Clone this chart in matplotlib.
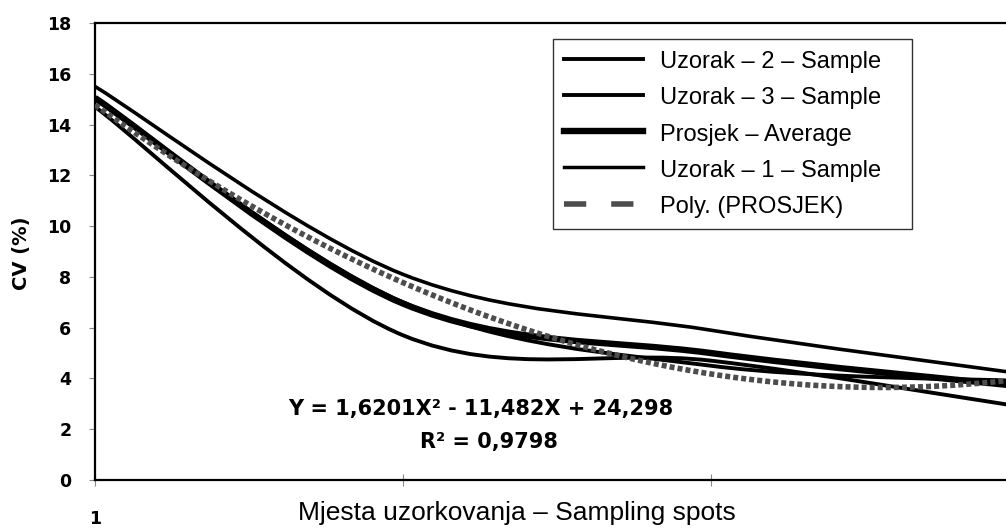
import numpy as np
import matplotlib
matplotlib.use("Agg")
import matplotlib.pyplot as plt
from matplotlib.path import Path
from matplotlib.patches import PathPatch
from matplotlib.lines import Line2D

# ---------------- data ----------------
spots = [1, 2, 3, 4]
uzorak_1 = [15.5, 8.1, 5.9, 4.2]
uzorak_2 = [14.7, 5.7, 4.7, 2.9]
uzorak_3 = [15.0, 7.0, 4.5, 3.9]
prosjek = [15.05, 6.95, 5.0, 3.7]
y_ticks = [0, 2, 4, 6, 8, 10, 12, 14, 16, 18]
x_tick_labels = ["1", "", "", ""]
equation_text = "Y = 1,6201X\u00b2 - 11,482X + 24,298"
r2_text = "R\u00b2 = 0,9798"

W, H = 1006, 529
fig = plt.figure(figsize=(W / 100, H / 100), dpi=100)
fig.patch.set_facecolor("white")

# axes: left spine at px 95, top at 23, bottom at 480, right (x=4) at ~1019 (cropped)
L, T, B, R = 95, 23, 480, 1019
ax = fig.add_axes([L / W, 1 - B / H, (R - L) / W, (B - T) / H])
ax.set_xlim(1, 4)
ax.set_ylim(0, 18)


def smooth_path(xs, ys):
    """Excel-like smoothed line: cubic Bezier through the data points."""
    pts = np.column_stack([xs, ys]).astype(float)
    n = len(pts)
    verts = [pts[0]]
    codes = [Path.MOVETO]
    for i in range(n - 1):
        p0 = pts[i - 1] if i > 0 else pts[i]
        p1 = pts[i]
        p2 = pts[i + 1]
        p3 = pts[i + 2] if i + 2 < n else pts[i + 1]
        c1 = p1 + (p2 - p0) / 6.0
        c2 = p2 - (p3 - p1) / 6.0
        verts += [c1, c2, p2]
        codes += [Path.CURVE4] * 3
    return Path(verts, codes)


series = [
    (uzorak_1, 2.6),
    (uzorak_3, 2.8),
    (uzorak_2, 2.8),
    (prosjek, 4.6),
]
for ys, lw in series:
    ax.add_patch(PathPatch(smooth_path(spots, ys), fill=False, edgecolor="black",
                           lw=lw, capstyle="butt", joinstyle="round"))

# polynomial trendline of the average series
coef = np.polyfit(spots, prosjek, 2)
xt = np.linspace(spots[0], spots[-1], 300)
ax.plot(xt, np.polyval(coef, xt), color="#4d4d4d", lw=4.0,
        linestyle=(0, (0.9, 0.55)), solid_capstyle="butt", dash_capstyle="butt", zorder=5)

# ---------------- axes styling ----------------
for s in ["left", "bottom", "top"]:
    ax.spines[s].set_color("black")
    ax.spines[s].set_linewidth(1.6)
ax.spines["right"].set_visible(False)

ax.set_yticks(y_ticks)
ax.set_yticklabels([str(v) for v in y_ticks], fontsize=12.5, fontweight="bold",
                   family="DejaVu Sans")
ax.tick_params(axis="y", direction="out", length=4, width=0.8, color="#888888", pad=13)

ax.set_xticks(spots)
ax.set_xticklabels(x_tick_labels, fontsize=12.5, fontweight="bold", family="DejaVu Sans")
ax.tick_params(axis="x", direction="inout", length=8, width=0.8, color="#888888", pad=17.5)

# axis titles
fig.text(22 / W, 1 - 253 / H, "CV (%)", rotation=90, ha="center", va="center",
         fontsize=14, fontweight="bold", family="DejaVu Sans")
fig.text(517 / W, 1 - 513 / H, "Mjesta uzorkovanja \u2013 Sampling spots", ha="center",
         va="center", fontsize=19, family="Liberation Sans")

# trendline equation
fig.text(288 / W, 1 - 409 / H, equation_text, ha="left", va="center",
         fontsize=15, fontweight="bold", family="DejaVu Sans")
fig.text(489 / W, 1 - 442 / H, r2_text, ha="center", va="center",
         fontsize=15, fontweight="bold", family="DejaVu Sans")

# legend
handles = [
    Line2D([], [], color="black", lw=2.8),
    Line2D([], [], color="black", lw=2.8),
    Line2D([], [], color="black", lw=4.6),
    Line2D([], [], color="black", lw=2.5),
    Line2D([], [], color="#4d4d4d", lw=4.0, linestyle=(0, (4.0, 4.5)), dash_capstyle="butt"),
]
labels = ["Uzorak \u2013 2 \u2013 Sample   ", "Uzorak \u2013 3 \u2013 Sample",
          "Prosjek \u2013 Average", "Uzorak \u2013 1 \u2013 Sample", "Poly. (PROSJEK)"]
leg = ax.legend(handles, labels, loc="upper left",
                bbox_to_anchor=(553 / W, 1 - 39 / H), bbox_transform=fig.transFigure,
                borderaxespad=0, frameon=True, fancybox=False, shadow=False,
                prop={"family": "Liberation Sans", "size": 17},
                handlelength=3.35, handleheight=1.0, handletextpad=0.75,
                labelspacing=0.53, borderpad=0.45)
leg.get_frame().set_edgecolor("black")
leg.get_frame().set_linewidth(1.0)

fig.savefig("out.png", dpi=100, facecolor="white")
